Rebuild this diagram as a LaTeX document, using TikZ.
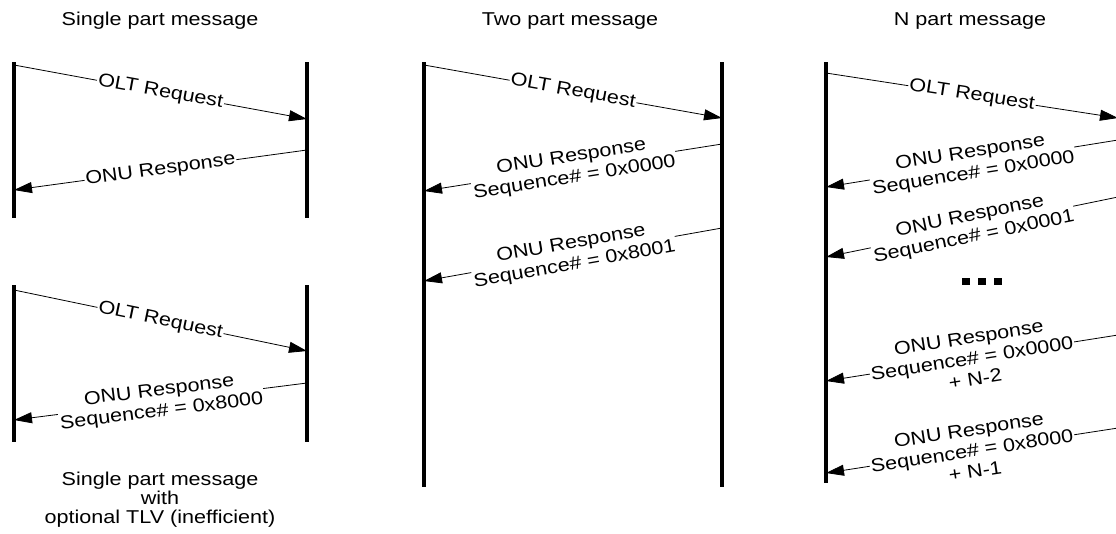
\documentclass[tikz,border=0pt]{standalone}
\usepackage{fontspec}
\setmainfont[FakeStretch=1.16]{Liberation Sans}
\usepackage{tikz}
\usetikzlibrary{arrows.meta}
\usetikzlibrary{positioning}
\tikzset{>=latex}
\tikzstyle{life} = [line width=3.6pt]
\tikzstyle{msg} = [-{Triangle[length=18pt, width=11pt]}, line width=0.8pt]
\tikzstyle{lbl} = [pos=0.5, sloped, fill=white, inner sep=1pt, align=center, font=\fontsize{18.6}{21}\selectfont]
\tikzstyle{ttl} = [anchor=base, inner sep=0pt]

\begin{document}
\begin{tikzpicture}[x=1pt, y=-1pt, font=\fontsize{18.6}{19}\selectfont]
\useasboundingbox (0,0) rectangle (1116,533);
% titles
\node [ttl] (t1) at (160, 25) {Single part message};
\node [ttl] (t2) at (570, 25) {Two part message};
\node [ttl] (t3) at (970, 25) {N part message};
\node [align=center, inner sep=0pt] (t4) at (160, 500) {Single part message\\with\\optional TLV (inefficient)};
% single part
\coordinate (A) at (14, 62);   \coordinate (A') at (14, 218);
\coordinate (B) at (307, 62);  \coordinate (B') at (307, 218);
\draw [life] (A) -- (A');
\draw [life] (B) -- (B');
\coordinate (a1) at (14, 65);  \coordinate (b1) at (307, 119);
\coordinate (b2) at (307, 150); \coordinate (a2) at (14, 190);
\draw [msg] (a1) -- node[lbl] {OLT Request} (b1);
\draw [msg] (b2) -- node[lbl] {ONU Response} (a2);
% single part with TLV
\coordinate (C) at (14, 285);  \coordinate (C') at (14, 442);
\coordinate (D) at (307, 285); \coordinate (D') at (307, 442);
\draw [life] (C) -- (C');
\draw [life] (D) -- (D');
\coordinate (c1) at (14, 290);  \coordinate (d1) at (307, 351);
\coordinate (d2) at (307, 383); \coordinate (c2) at (14, 420);
\draw [msg] (c1) -- node[lbl] {OLT Request} (d1);
\draw [msg] (d2) -- node[lbl] {ONU Response\\Sequence\# = 0x8000} (c2);
% two part
\coordinate (E) at (424, 62);  \coordinate (E') at (424, 487);
\coordinate (F) at (722, 62);  \coordinate (F') at (722, 487);
\draw [life] (E) -- (E');
\draw [life] (F) -- (F');
\coordinate (e1) at (424, 65);  \coordinate (f1) at (722, 118);
\coordinate (f2) at (722, 144); \coordinate (e2) at (424, 191);
\coordinate (f3) at (722, 228); \coordinate (e3) at (424, 281);
\draw [msg] (e1) -- node[lbl] {OLT Request} (f1);
\draw [msg] (f2) -- node[lbl] {ONU Response\\Sequence\# = 0x0000} (e2);
\draw [msg] (f3) -- node[lbl] {ONU Response\\Sequence\# = 0x8001} (e3);
% N part
\coordinate (G) at (826, 62);  \coordinate (G') at (826, 483);
\coordinate (H) at (1120, 62); \coordinate (H') at (1120, 483);
\draw [life] (G) -- (G');
\draw [life] (H) -- (H');
\coordinate (g1) at (826, 73);   \coordinate (h1) at (1118, 118);
\coordinate (h2) at (1118, 140); \coordinate (g2) at (826, 187);
\coordinate (h3) at (1118, 197); \coordinate (g3) at (826, 257);
\coordinate (h4) at (1118, 335); \coordinate (g4) at (826, 381);
\coordinate (h5) at (1118, 428); \coordinate (g5) at (826, 473);
\draw [msg] (g1) -- node[lbl] {OLT Request} (h1);
\draw [msg] (h2) -- node[lbl] {ONU Response\\Sequence\# = 0x0000} (g2);
\draw [msg] (h3) -- node[lbl] {ONU Response\\Sequence\# = 0x0001} (g3);
\draw [msg] (h4) -- node[lbl] {ONU Response\\Sequence\# = 0x0000\\+ N-2} (g4);
\draw [msg] (h5) -- node[lbl] {ONU Response\\Sequence\# = 0x8000\\+ N-1} (g5);
% dots
\foreach \x in {962, 978, 994}
  \fill (\x, 278) rectangle ++(8, 7);
\end{tikzpicture}
\end{document}
